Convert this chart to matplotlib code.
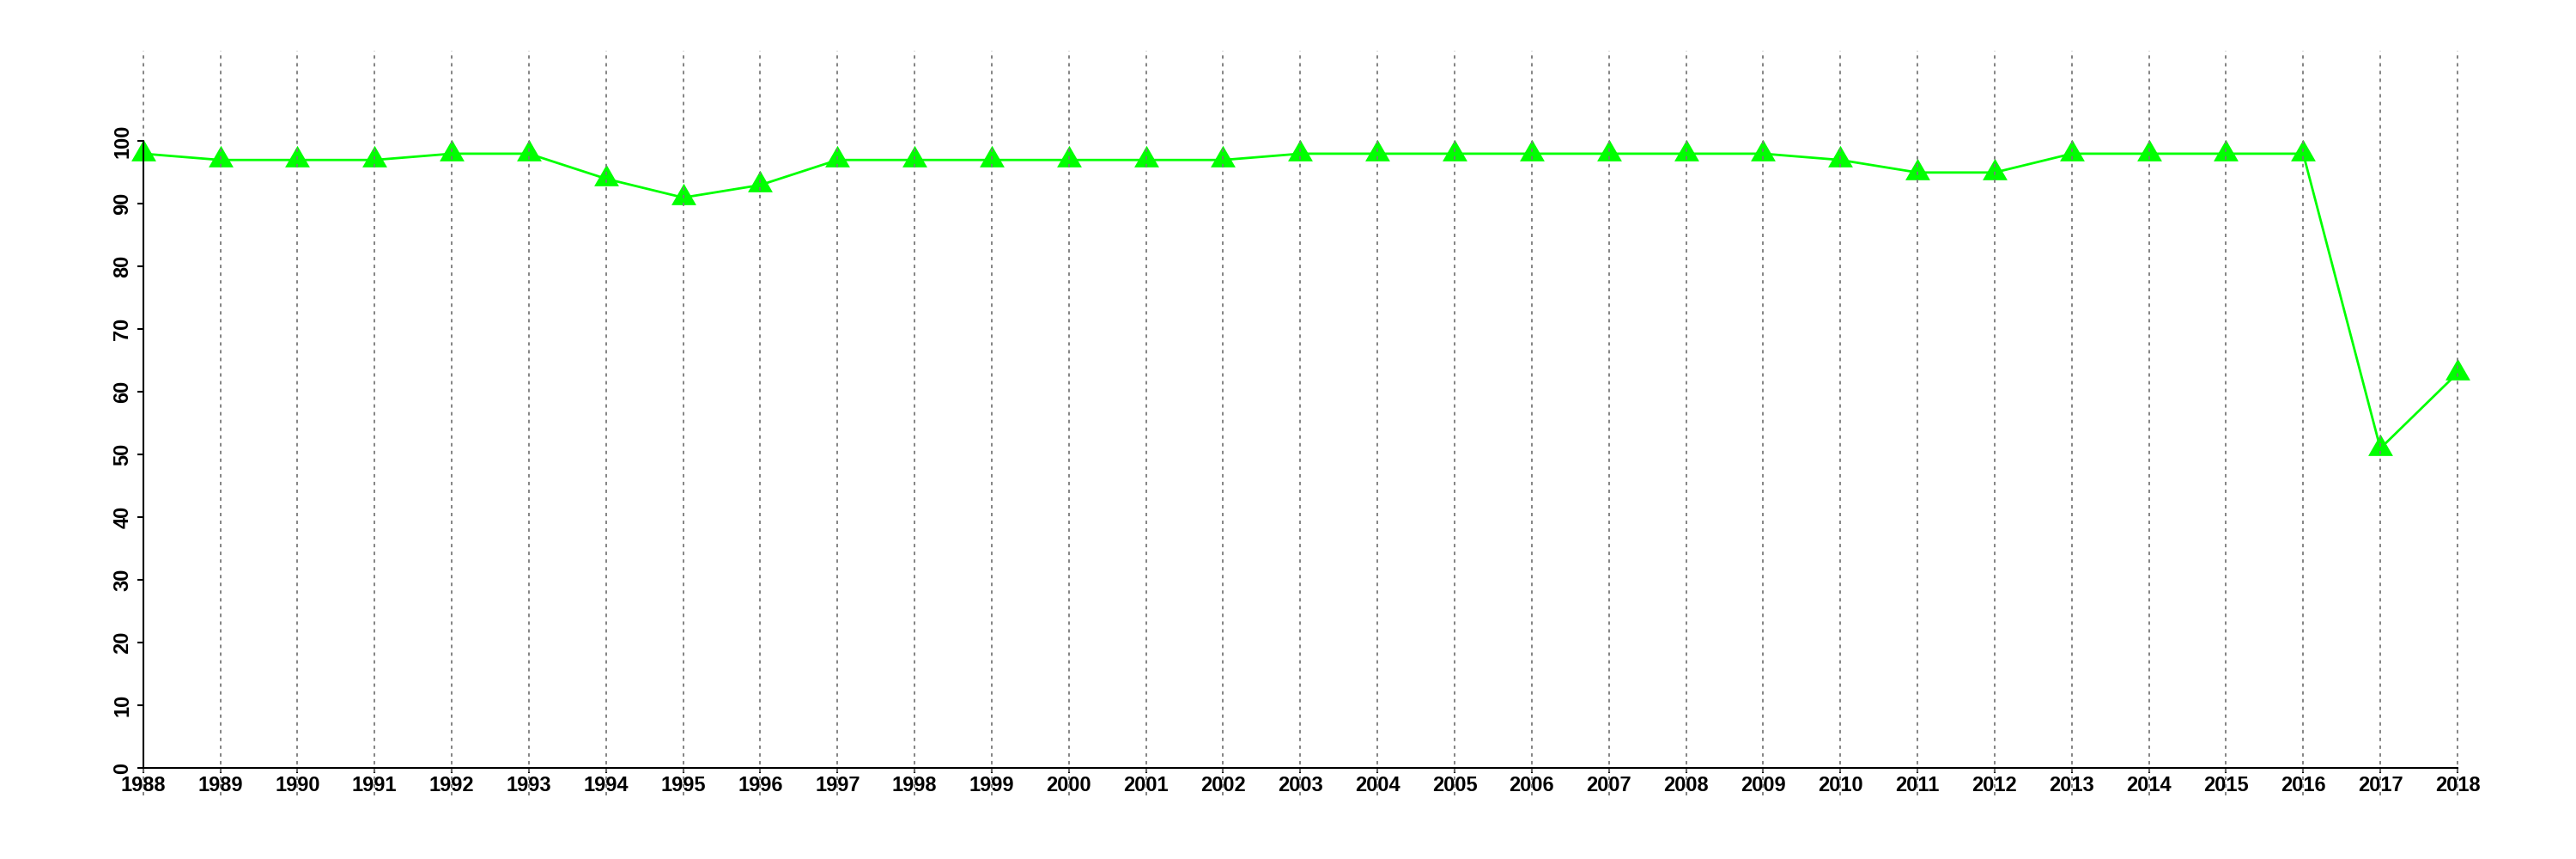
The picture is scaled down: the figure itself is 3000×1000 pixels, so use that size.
import numpy as np
import matplotlib
matplotlib.use("Agg")
import matplotlib.pyplot as plt

# yearly values
years = list(range(1988, 2019))
values = [98, 97, 97, 97, 98, 98, 94, 91, 93, 97,
          97, 97, 97, 97, 97, 98, 98, 98, 98, 98,
          98, 98, 97, 95, 95, 98, 98, 98, 98, 51, 63]
y_ticks = list(range(0, 101, 10))

plt.rcParams['font.family'] = ['Liberation Sans', 'DejaVu Sans']

fig = plt.figure(figsize=(30, 10), dpi=100)
ax = fig.add_axes([0.01963, 0.0736, 0.9703, 0.8672])

# R style padding of 4% around the ranges
ax.set_xlim(1988 - 0.04 * 30, 2018 + 0.04 * 30)
ax.set_ylim(0 - 0.04 * 110, 110 + 0.04 * 110)

# equilateral triangle centred on its centroid (like pch=17)
tri = [(-1, -0.577), (1, -0.577), (0, 1.155), (-1, -0.577)]
ax.plot(years, values, color='#00ff00', lw=2, marker=tri, markersize=24,
        markeredgewidth=0, zorder=3)

# dotted verticals over everything
ax.vlines(years, -4.4, 114.4, colors='#7a7a7a', linestyles=(0, (2.2, 2.8)),
          lw=1.3, zorder=6)

for s in ['top', 'right']:
    ax.spines[s].set_visible(False)
ax.spines['left'].set_position(('data', 1988))
ax.spines['left'].set_bounds(0, 100)
ax.spines['bottom'].set_position(('data', 0))
ax.spines['bottom'].set_bounds(1988, 2018)
for s in ['left', 'bottom']:
    ax.spines[s].set_linewidth(1.5)
    ax.spines[s].set_zorder(7)

ax.set_xticks(years)
ax.set_xticklabels([str(y) for y in years])
ax.set_yticks(y_ticks)
ax.set_yticklabels([str(v) for v in y_ticks])
ax.tick_params(axis='x', length=4.5, width=1.5, pad=2, labelsize=17)
ax.tick_params(axis='y', length=5, width=1.5, pad=4, labelsize=17)
for lbl in ax.get_xticklabels() + ax.get_yticklabels():
    lbl.set_fontweight('bold')
for lbl in ax.get_yticklabels():
    lbl.set_rotation(90)
    lbl.set_va('center')

fig.savefig('out.png', dpi=100)
